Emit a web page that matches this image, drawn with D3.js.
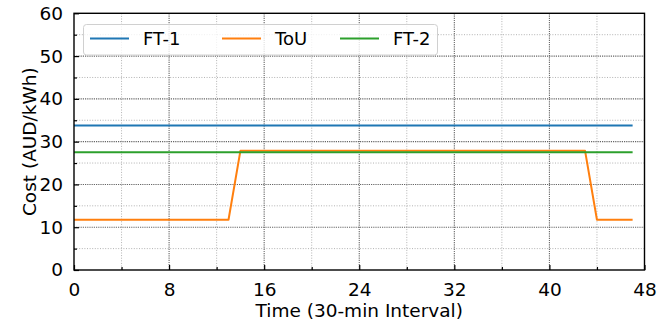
<!DOCTYPE html>
<html>
<head>
<meta charset="utf-8">
<script src="https://cdn.jsdelivr.net/npm/d3@7"></script>
<style>
  html, body { margin: 0; padding: 0; background: #fff; }
  svg { display: block; font-family: "DejaVu Sans", sans-serif; }
</style>
</head>
<body>
<svg id="chart" width="672" height="325"></svg>
<script>
// Half-hourly electricity tariffs over one day (48 intervals)
const intervals = d3.range(0, 48);
const seriesNames = ["FT-1", "ToU", "FT-2"];
const seriesColors = ["#1f77b4", "#ff7f0e", "#2ca02c"];
const ft1 = intervals.map(() => 33.8);
const tou = [
  11.75, 11.75, 11.75, 11.75, 11.75, 11.75, 11.75, 11.75,
  11.75, 11.75, 11.75, 11.75, 11.75, 11.75, 27.85, 27.85,
  27.85, 27.85, 27.85, 27.85, 27.85, 27.85, 27.85, 27.85,
  27.85, 27.85, 27.85, 27.85, 27.85, 27.85, 27.85, 27.85,
  27.85, 27.85, 27.85, 27.85, 27.85, 27.85, 27.85, 27.85,
  27.85, 27.85, 27.85, 27.85, 11.75, 11.75, 11.75, 11.75
];
const ft2 = intervals.map(() => 27.5);
const xTicks = [0, 8, 16, 24, 32, 40, 48];
const xMinorTicks = [4, 12, 20, 28, 36, 44];
const yTicks = [0, 10, 20, 30, 40, 50, 60];
const yMinorTicks = [5, 15, 25, 35, 45, 55];

const svg = d3.select("#chart");
const plotLeft = 74, plotRight = 644.5, plotTop = 13.3, plotBottom = 270;

const x = d3.scaleLinear().domain([0, 48]).range([plotLeft, plotRight]);
const y = d3.scaleLinear().domain([0, 60]).range([plotBottom, plotTop]);

// grid: minor first, then major
const grid = svg.append("g");
grid.selectAll(".vminor").data(xMinorTicks).join("line")
  .attr("x1", d => x(d)).attr("x2", d => x(d)).attr("y1", plotTop).attr("y2", plotBottom)
  .attr("stroke", "#aaa").attr("stroke-width", 0.9).attr("stroke-dasharray", "1,1.6");
grid.selectAll(".hminor").data(yMinorTicks).join("line")
  .attr("x1", plotLeft).attr("x2", plotRight).attr("y1", d => y(d)).attr("y2", d => y(d))
  .attr("stroke", "#aaa").attr("stroke-width", 0.9).attr("stroke-dasharray", "1,1.6");
grid.selectAll(".vmajor").data(xTicks.slice(1, -1)).join("line")
  .attr("x1", d => x(d)).attr("x2", d => x(d)).attr("y1", plotTop).attr("y2", plotBottom)
  .attr("stroke", "#666").attr("stroke-width", 1.1).attr("stroke-dasharray", "1.2,1");
grid.selectAll(".hmajor").data(yTicks.slice(1, -1)).join("line")
  .attr("x1", plotLeft).attr("x2", plotRight).attr("y1", d => y(d)).attr("y2", d => y(d))
  .attr("stroke", "#666").attr("stroke-width", 1.1).attr("stroke-dasharray", "1.2,1");

// data lines
const line = d3.line().x((d, i) => x(intervals[i])).y(d => y(d));
[ft1, tou, ft2].forEach((vals, k) => {
  svg.append("path").datum(vals)
    .attr("fill", "none").attr("stroke", seriesColors[k])
    .attr("stroke-width", 2).attr("stroke-linejoin", "round")
    .attr("d", line);
});

// axes with inward ticks
const xAxis = svg.append("g").attr("transform", `translate(0,${plotBottom})`)
  .call(d3.axisBottom(x).tickValues(xTicks).tickSize(-5).tickPadding(13).tickFormat(d3.format("d")));
const xMinor = svg.append("g").attr("transform", `translate(0,${plotBottom})`)
  .call(d3.axisBottom(x).tickValues(xMinorTicks).tickSize(-3).tickFormat(""));
const yAxis = svg.append("g").attr("transform", `translate(${plotLeft},0)`)
  .call(d3.axisLeft(y).tickValues(yTicks).tickSize(-5).tickPadding(11).tickFormat(d3.format("d")));
const yMinor = svg.append("g").attr("transform", `translate(${plotLeft},0)`)
  .call(d3.axisLeft(y).tickValues(yMinorTicks).tickSize(-3).tickFormat(""));

[xAxis, xMinor, yAxis, yMinor].forEach(g => {
  g.select(".domain").remove();
  g.selectAll(".tick line").attr("stroke", "#000").attr("stroke-width", 1.2);
  g.selectAll("text").attr("fill", "#000").style("font-size", "18.5px")
    .style("font-family", "'DejaVu Sans', sans-serif");
});
xAxis.selectAll("text").attr("dy", "0.71em");

// frame
svg.append("rect")
  .attr("x", plotLeft).attr("y", plotTop)
  .attr("width", plotRight - plotLeft).attr("height", plotBottom - plotTop)
  .attr("fill", "none").attr("stroke", "#000").attr("stroke-width", 1.4);

// legend
const lg = svg.append("g");
lg.append("rect")
  .attr("x", 83.5).attr("y", 24.5).attr("width", 354).attr("height", 30.5)
  .attr("rx", 3).attr("fill", "#fff").attr("fill-opacity", 0.8)
  .attr("stroke", "#d0d0d0").attr("stroke-width", 1);
const legendX = [90, 222, 340];
seriesNames.forEach((name, k) => {
  lg.append("line")
    .attr("x1", legendX[k]).attr("x2", legendX[k] + 39)
    .attr("y1", 38.5).attr("y2", 38.5)
    .attr("stroke", seriesColors[k]).attr("stroke-width", 2);
  lg.append("text")
    .attr("x", legendX[k] + 53).attr("y", 38.5).attr("dy", "0.35em")
    .style("font-size", "18px").attr("fill", "#000")
    .text(name);
});

// axis titles
svg.append("text")
  .attr("x", (plotLeft + plotRight) / 2).attr("y", 316.5)
  .attr("text-anchor", "middle").style("font-size", "18.5px")
  .text("Time (30-min Interval)");
svg.append("text")
  .attr("transform", `translate(36,${(plotTop + plotBottom) / 2}) rotate(-90)`)
  .attr("text-anchor", "middle").style("font-size", "18.5px")
  .text("Cost (AUD/kWh)");
</script>
</body>
</html>
